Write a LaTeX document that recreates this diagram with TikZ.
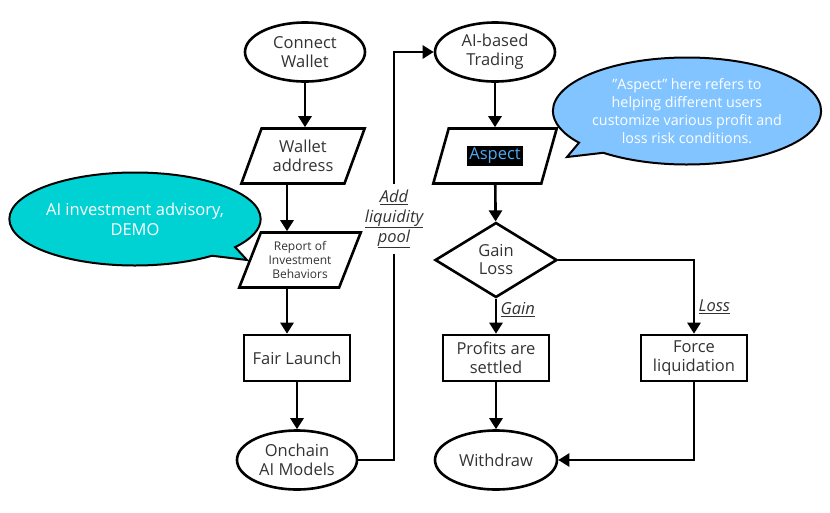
\documentclass[tikz,border=0pt]{standalone}
\usepackage{fontspec}
\setmainfont{Open Sans}
\usetikzlibrary{shapes,arrows.meta,positioning}
\definecolor{txtgray}{RGB}{51,51,51}
\definecolor{advcyan}{RGB}{0,210,212}
\definecolor{noteblue}{RGB}{130,196,255}
\definecolor{aspblue}{RGB}{80,170,245}
\setlength{\fboxsep}{2pt}

\begin{document}
\begin{tikzpicture}[x=1pt, y=-1pt,
  term/.style={ellipse, draw, line width=2.6pt, minimum width=120pt, minimum height=59pt,
    inner sep=0pt, align=center, text=txtgray, font=\fontsize{16.5}{19}\selectfont},
  proc/.style={rectangle, draw, line width=2.6pt, minimum width=106pt, minimum height=46pt,
    inner sep=0pt, align=center, text=txtgray, font=\fontsize{16.5}{19}\selectfont},
  io/.style={trapezium, trapezium left angle=65, trapezium right angle=115, trapezium stretches=true,
    draw, line width=2.6pt, minimum width=124pt, minimum height=55pt,
    inner sep=0pt, align=center, text=txtgray, font=\fontsize{16.5}{19}\selectfont},
  decide/.style={diamond, aspect=1.6, draw, line width=2.6pt, minimum width=122pt, minimum height=75pt,
    inner sep=0pt, align=center, text=txtgray, font=\fontsize{16.5}{18}\selectfont},
  note/.style={ellipse callout, draw, line width=2pt, text=white, align=center, inner sep=0pt},
  lbl/.style={text=txtgray, align=center, font=\fontsize{16.5}{20}\selectfont\itshape},
  flow/.style={line width=2.6pt, -{Triangle[length=11pt, width=13pt]}}
]
\useasboundingbox (0,0) rectangle (830,512);

% Left column
\node[term] (wallet) at (305,52) {Connect\\Wallet};
\node[io] (address) at (303,156) {Wallet\\address};
\node[io, minimum width=122pt, font=\fontsize{12}{14}\selectfont] (report) at (300,260) {Report of\\Investment\\Behaviors};
\node[proc] (launch) at (297,358) {Fair Launch};
\node[term] (models) at (297,460) {Onchain\\AI Models};

% Liquidity label
\node[lbl, minimum height=70pt, inner sep=2pt] (liquidity) at (394,219)
  {\underline{Add}\\\underline{liquidity}\\\underline{pool}};

% Right column
\node[term] (trading) at (495,52) {AI-based\\Trading};
\node[io] (aspect) at (495,156) {\colorbox{black}{\textcolor{aspblue}{Aspect}}};
\node[decide] (gainloss) at (496,260) {Gain\\Loss};
\node[proc] (profits) at (496,358) {Profits are\\settled};
\node[proc] (force) at (694,358) {Force\\liquidation};
\node[term, minimum width=122pt] (withdraw) at (496,460) {Withdraw};

% Callouts
\node[note, fill=advcyan, minimum width=244pt, minimum height=93pt,
  callout absolute pointer={(247,260)}, font=\fontsize{16.5}{20}\selectfont] (advisory) at (135,219)
  {AI investment advisory,\\DEMO};
\node[note, fill=noteblue, minimum width=261pt, minimum height=107pt,
  callout absolute pointer={(567,157)}, font=\fontsize{14.3}{18}\selectfont] (remark) at (687,111)
  {\char34 Aspect\char34{} here refers to\\helping different users\\customize various profit and\\loss risk conditions.};

% Arrows
\draw[flow] (wallet.south) -- (wallet.south |- address.north);
\draw[flow] ([xshift=-16pt]address.south) -- ([xshift=-16pt]address.south |- report.north);
\draw[flow] ([xshift=-13pt]report.south) -- ([xshift=-13pt]report.south |- launch.north);
\draw[flow] (launch) -- (models);
\draw[line width=2.6pt] (models.east) -| (liquidity.south);
\draw[flow] (liquidity.north) |- (trading.west);
\draw[flow] (trading) -- (aspect);
\draw[flow] (aspect) -- (gainloss);
\draw[flow] (gainloss.south) -- node[lbl, right, pos=0.3] {\underline{Gain}} (profits.north);
\draw[flow] (gainloss.east) -| node[lbl, right, pos=0.82] {\underline{Loss}} (force.north);
\draw[flow] (profits) -- (withdraw);
\draw[flow] (force.south) |- (withdraw.east);
\end{tikzpicture}
\end{document}
